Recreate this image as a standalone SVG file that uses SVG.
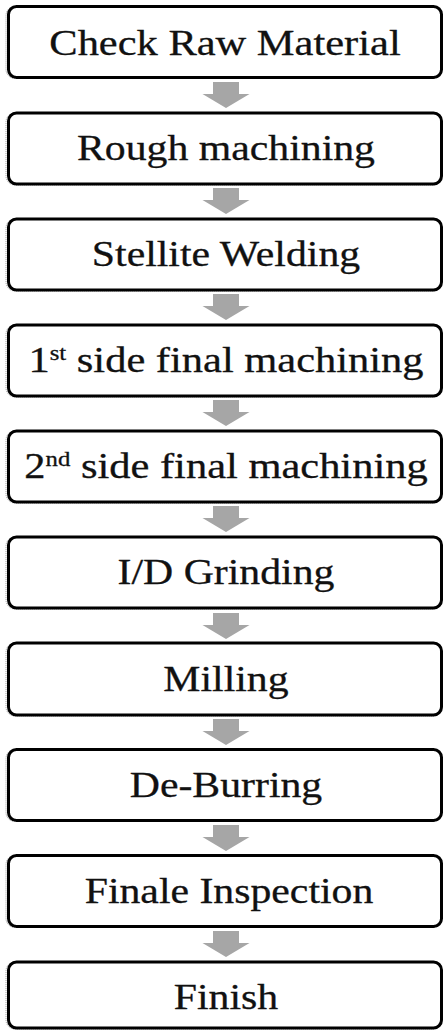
<svg xmlns="http://www.w3.org/2000/svg" width="444" height="1031" viewBox="0 0 444 1031">
<style>
.box{fill:#fff;stroke:#000;stroke-width:3}
.shd{fill:none;stroke:#9a9a9a;stroke-width:1;stroke-dasharray:1 1}
.lbl{font-family:"Liberation Serif","Times New Roman",serif;font-size:36px;fill:#111;stroke:#111;stroke-width:0.3;text-anchor:middle}
.sup{font-size:21px}
.arr{fill:#a6a6a6}
</style>
<defs>
<path id="arrow" d="M-13,0 H13 V12 H23.5 L0,26 L-23.5,12 H-13 Z"/>
</defs>
<rect width="444" height="1031" fill="#fff"/>
<g id="connectors">
<use href="#arrow" class="arr" x="226" y="82"/>
<use href="#arrow" class="arr" x="226" y="188"/>
<use href="#arrow" class="arr" x="226" y="294"/>
<use href="#arrow" class="arr" x="226" y="400"/>
<use href="#arrow" class="arr" x="226" y="506"/>
<use href="#arrow" class="arr" x="226" y="613"/>
<use href="#arrow" class="arr" x="226" y="719"/>
<use href="#arrow" class="arr" x="226" y="825"/>
<use href="#arrow" class="arr" x="226" y="931"/>
</g>
<g id="n1"><rect class="shd" x="6" y="6.5" width="436" height="72" rx="9"/><rect class="box" x="8.5" y="6.5" width="433" height="71" rx="8"/><text class="lbl" transform="translate(225,55) scale(1.18,1)">Check Raw Material</text></g>
<g id="n2"><rect class="shd" x="6" y="113" width="436" height="72" rx="9"/><rect class="box" x="8.5" y="113" width="433" height="71" rx="8"/><text class="lbl" transform="translate(226,160) scale(1.16,1)">Rough machining</text></g>
<g id="n3"><rect class="shd" x="6" y="219" width="436" height="72" rx="9"/><rect class="box" x="8.5" y="219" width="433" height="71" rx="8"/><text class="lbl" transform="translate(226,266) scale(1.16,1)">Stellite Welding</text></g>
<g id="n4"><rect class="shd" x="6" y="325" width="436" height="72" rx="9"/><rect class="box" x="8.5" y="325" width="433" height="71" rx="8"/><text class="lbl" transform="translate(226,372) scale(1.18,1)">1<tspan class="sup" dy="-12">st</tspan><tspan dy="12"> side final machining</tspan></text></g>
<g id="n5"><rect class="shd" x="6" y="431" width="436" height="72" rx="9"/><rect class="box" x="8.5" y="431" width="433" height="71" rx="8"/><text class="lbl" transform="translate(226,478) scale(1.18,1)">2<tspan class="sup" dy="-12">nd</tspan><tspan dy="12"> side final machining</tspan></text></g>
<g id="n6"><rect class="shd" x="6" y="537" width="436" height="72" rx="9"/><rect class="box" x="8.5" y="537" width="433" height="71" rx="8"/><text class="lbl" transform="translate(226,584) scale(1.16,1)">I/D Grinding</text></g>
<g id="n7"><rect class="shd" x="6" y="643" width="436" height="73" rx="9"/><rect class="box" x="8.5" y="643" width="433" height="72" rx="8"/><text class="lbl" transform="translate(226,691) scale(1.16,1)">Milling</text></g>
<g id="n8"><rect class="shd" x="6" y="749.5" width="436" height="72" rx="9"/><rect class="box" x="8.5" y="749.5" width="433" height="71" rx="8"/><text class="lbl" transform="translate(226,797) scale(1.16,1)">De-Burring</text></g>
<g id="n9"><rect class="shd" x="6" y="855.5" width="436" height="72" rx="9"/><rect class="box" x="8.5" y="855.5" width="433" height="71" rx="8"/><text class="lbl" transform="translate(229,903) scale(1.16,1)">Finale Inspection</text></g>
<g id="n10"><rect class="shd" x="6" y="962" width="436" height="67" rx="9"/><rect class="box" x="8.5" y="962" width="433" height="66" rx="8"/><text class="lbl" transform="translate(226,1009) scale(1.16,1)">Finish</text></g>
</svg>
